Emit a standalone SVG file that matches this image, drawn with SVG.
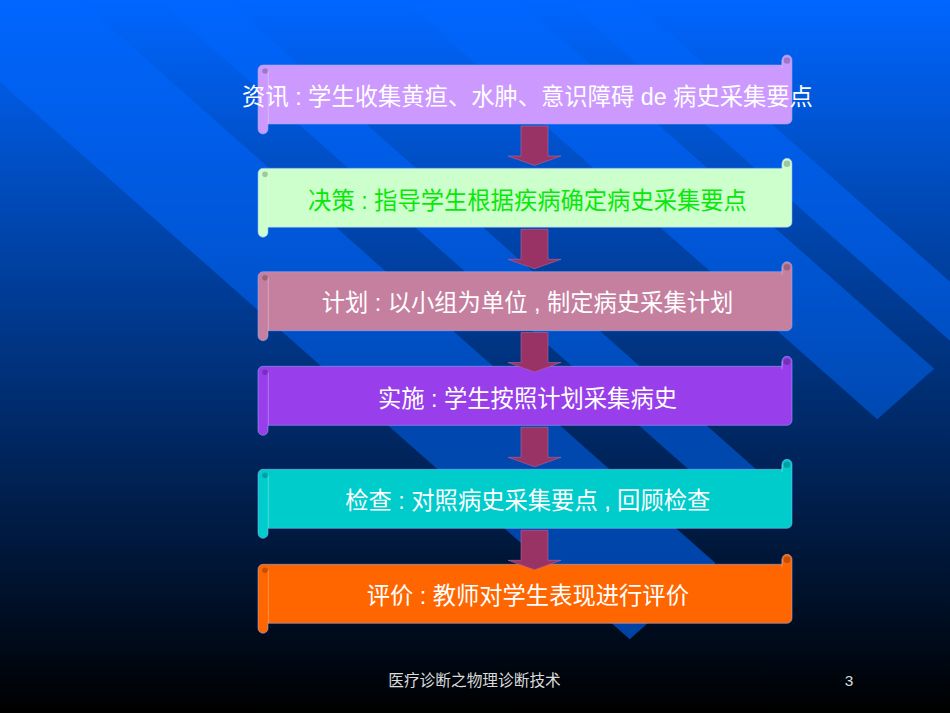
<svg xmlns="http://www.w3.org/2000/svg" xmlns:xlink="http://www.w3.org/1999/xlink" width="950" height="713" viewBox="0 0 950 713">
  <defs>
    <linearGradient id="bg" x1="0" y1="0" x2="0" y2="713" gradientUnits="userSpaceOnUse">
      <stop offset="0" stop-color="#0066FF"/>
      <stop offset="1" stop-color="#000000"/>
    </linearGradient>
    <linearGradient id="stripe" x1="0" y1="0" x2="0" y2="713" gradientUnits="userSpaceOnUse">
      <stop offset="0" stop-color="#0066FF"/>
      <stop offset="0.35" stop-color="#0056D6"/>
      <stop offset="0.6" stop-color="#0048B0"/>
      <stop offset="1" stop-color="#0040A0"/>
    </linearGradient>
    <path id="scroll" d="M5,10 H524 V5 A5,5 0 0 1 534,5 V64 A5,5 0 0 1 529,69 H10 V74 A5,5 0 0 1 0,74 V15 A5,5 0 0 1 5,10 Z"/>
    <g id="curl">
      <circle cx="529" cy="5.5" r="3.3" fill="#000" fill-opacity="0.22"/>
      <circle cx="7" cy="16" r="2.8" fill="#000" fill-opacity="0.22"/>
      <path d="M10.3,16 V69 M524,5 V13" fill="none" stroke="#FFFFFF" stroke-opacity="0.3" stroke-width="1"/>
    </g>
    <polygon id="arrow" points="521,0 548,0 548,30 561,30 534.5,39.5 508,30 521,30"/>
    <style>
      .sc { stroke: #8FB0FF; stroke-opacity: 0.55; stroke-width: 1; }
      .t { font-family: "Liberation Sans", "Noto Sans CJK SC", sans-serif; font-size: 23.3px; fill: #FFFFFF; text-anchor: middle; }
      .arr { fill: #993366; stroke: #B8699A; stroke-opacity: 0.7; stroke-width: 0.8; }
      .foot { font-family: "Liberation Sans", "Noto Sans CJK SC", sans-serif; fill: #DADADA; }
    </style>
  </defs>

  <g id="background">
    <rect x="0" y="0" width="950" height="713" fill="url(#bg)"/>
    <g fill="url(#stripe)">
      <polygon points="-10,73.2 -10,-10 67.8,-10 715.4,563.1 629.7,639.3"/>
      <polygon points="146.9,-10 214.7,-10 788.7,498 754.9,528.1"/>
      <polygon points="392.1,-10 506.2,-10 934.2,368.8 877.2,419.3"/>
      <polygon points="553.7,-10 620.3,-10 970,299.5 970,358.5"/>
    </g>
  </g>

  <g id="node-1">
    <use xlink:href="#scroll" href="#scroll" x="258" y="55" class="sc" fill="#CC99FF"/>
    <use xlink:href="#curl" href="#curl" x="258" y="55"/>
    <text class="t" x="527.5" y="105.1">资讯 : 学生收集黄疸、水肿、意识障碍 de 病史采集要点</text>
  </g>

  <g id="node-2">
    <use xlink:href="#scroll" href="#scroll" x="258" y="158.3" class="sc" fill="#CCFFCC"/>
    <use xlink:href="#curl" href="#curl" x="258" y="158.3"/>
    <text class="t" x="527.5" y="208.6" style="fill:#08E808">决策 : 指导学生根据疾病确定病史采集要点</text>
  </g>

  <g id="node-3">
    <use xlink:href="#scroll" href="#scroll" x="258" y="261.7" class="sc" fill="#C6809F"/>
    <use xlink:href="#curl" href="#curl" x="258" y="261.7"/>
    <text class="t" x="527.5" y="310.9">计划 : 以小组为单位 , 制定病史采集计划</text>
  </g>

  <g id="node-4">
    <use xlink:href="#scroll" href="#scroll" x="258" y="356.3" class="sc" fill="#983EEA"/>
    <use xlink:href="#curl" href="#curl" x="258" y="356.3"/>
    <text class="t" x="527.5" y="406.6">实施 : 学生按照计划采集病史</text>
  </g>

  <g id="node-5">
    <use xlink:href="#scroll" href="#scroll" x="258" y="459.3" class="sc" fill="#00CCCC"/>
    <use xlink:href="#curl" href="#curl" x="258" y="459.3"/>
    <text class="t" x="527.8" y="508.7">检查 : 对照病史采集要点 , 回顾检查</text>
  </g>

  <g id="node-6">
    <use xlink:href="#scroll" href="#scroll" x="258" y="554.3" class="sc" fill="#FF6600"/>
    <use xlink:href="#curl" href="#curl" x="258" y="554.3"/>
    <text class="t" x="527.8" y="604.2">评价 : 教师对学生表现进行评价</text>
  </g>

  <g id="connectors">
    <use xlink:href="#arrow" href="#arrow" class="arr" x="0" y="126"/>
    <use xlink:href="#arrow" href="#arrow" class="arr" x="0" y="229.3"/>
    <use xlink:href="#arrow" href="#arrow" class="arr" x="0" y="332.5"/>
    <use xlink:href="#arrow" href="#arrow" class="arr" x="0" y="427.3"/>
    <use xlink:href="#arrow" href="#arrow" class="arr" x="0" y="530.3"/>
  </g>

  <g id="footer">
    <text class="foot" x="474.5" y="686.2" font-size="15.7" text-anchor="middle">医疗诊断之物理诊断技术</text>
    <text class="foot" x="849" y="686" font-size="15.4" text-anchor="middle">3</text>
  </g>
</svg>
